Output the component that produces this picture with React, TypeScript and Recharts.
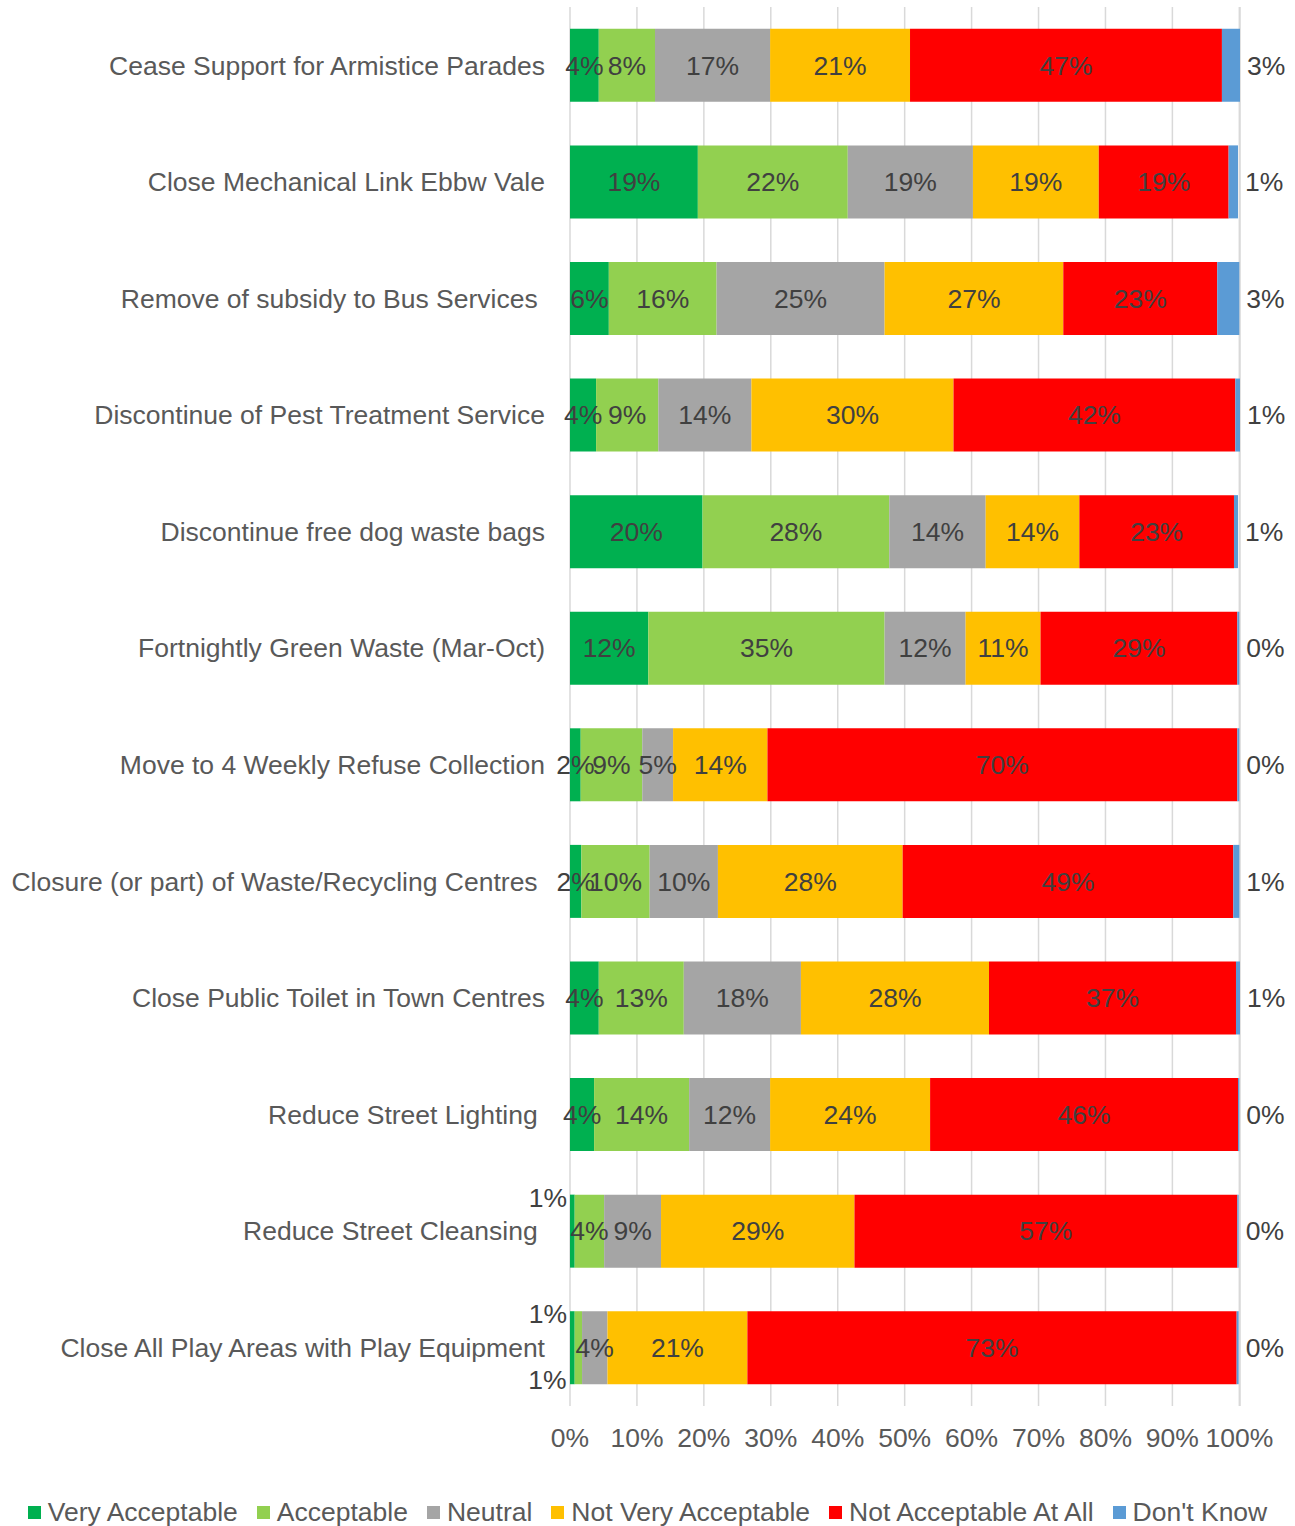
import { BarChart, Bar, XAxis, YAxis, CartesianGrid, Legend, LabelList } from "recharts";

const categories = [
  "Cease Support for Armistice Parades",
  "Close Mechanical Link Ebbw Vale",
  "Remove of subsidy to Bus Services\u00a0",
  "Discontinue of Pest Treatment Service",
  "Discontinue free dog waste bags",
  "Fortnightly Green Waste (Mar-Oct)",
  "Move to 4 Weekly Refuse Collection",
  "Closure (or part) of Waste/Recycling Centres\u00a0",
  "Close Public Toilet in Town Centres",
  "Reduce Street Lighting\u00a0",
  "Reduce Street Cleansing\u00a0",
  "Close All Play Areas with Play Equipment",
];

const veryAcceptable = [4.3, 19.1, 5.8, 3.9, 19.8, 11.7, 1.6, 1.7, 4.3, 3.6, 0.7, 0.7];
const acceptable = [8.4, 22.4, 16.1, 9.3, 27.9, 35.3, 9.2, 10.2, 12.7, 14.2, 4.4, 1.1];
const neutral = [17.2, 18.7, 25.1, 13.9, 14.4, 12.1, 4.6, 10.2, 17.5, 12.1, 8.5, 3.8];
const notVeryAcceptable = [20.9, 18.8, 26.7, 30.2, 14.0, 11.2, 14.1, 27.6, 28.1, 23.9, 28.9, 20.9];
const notAcceptableAtAll = [46.6, 19.4, 23.0, 42.1, 23.1, 29.4, 70.2, 49.4, 36.9, 46.0, 57.2, 73.1];
const dontKnow = [2.7, 1.4, 3.3, 0.7, 0.6, 0.3, 0.3, 0.9, 0.6, 0.2, 0.2, 0.3];

const xTicks = [0, 10, 20, 30, 40, 50, 60, 70, 80, 90, 100];

// rows whose small labels were moved off the bar
const greenLabelAbove = ["Reduce Street Cleansing\u00a0", "Close All Play Areas with Play Equipment"];
const lightGreenLabelBelow = ["Close All Play Areas with Play Equipment"];

const data = categories.map((name, i) => ({
  name,
  veryAcceptable: veryAcceptable[i],
  acceptable: acceptable[i],
  neutral: neutral[i],
  notVeryAcceptable: notVeryAcceptable[i],
  notAcceptableAtAll: notAcceptableAtAll[i],
  dontKnow: dontKnow[i],
}));

const series = [
  { key: "veryAcceptable", label: "Very Acceptable", color: "#00B050" },
  { key: "acceptable", label: "Acceptable", color: "#92D050" },
  { key: "neutral", label: "Neutral", color: "#A5A5A5" },
  { key: "notVeryAcceptable", label: "Not Very Acceptable", color: "#FFC000" },
  { key: "notAcceptableAtAll", label: "Not Acceptable At All", color: "#FF0000" },
  { key: "dontKnow", label: "Don't Know", color: "#5B9BD5" },
];

const FONT = "'Liberation Sans', Arial, sans-serif";
const FS = 26.5;
const pct = (v: number) => `${Math.round(v)}%`;

function CategoryTick(props: any) {
  const { x, y, payload } = props;
  return (
    <text x={x} y={y} dy="0.35em" textAnchor="end" fontSize={FS} fill="#595959" fontFamily={FONT} style={{ whiteSpace: "pre" }}>
      {payload.value}
    </text>
  );
}

function makeLabel(seriesKey: string) {
  return (props: any) => {
    const { x, y, width, height, value, index } = props;
    const name = categories[index];
    const common = { fontSize: FS, fill: "#404040", fontFamily: FONT };
    if (seriesKey === "veryAcceptable" && greenLabelAbove.includes(name)) {
      return (
        <text x={x - 3} y={y + 3} dy="0.35em" textAnchor="end" {...common}>
          {pct(value)}
        </text>
      );
    }
    if (seriesKey === "acceptable" && lightGreenLabelBelow.includes(name)) {
      return (
        <text x={x - 8} y={y + height - 4} dy="0.35em" textAnchor="end" {...common}>
          {pct(value)}
        </text>
      );
    }
    if (seriesKey === "dontKnow") {
      return (
        <text x={x + width + 7} y={y + height / 2} dy="0.35em" textAnchor="start" {...common}>
          {pct(value)}
        </text>
      );
    }
    return (
      <text x={x + width / 2} y={y + height / 2} dy="0.35em" textAnchor="middle" {...common}>
        {pct(value)}
      </text>
    );
  };
}

function LegendContent() {
  return (
    <div
      style={{
        display: "flex",
        justifyContent: "center",
        alignItems: "center",
        height: 28,
        fontFamily: FONT,
        fontSize: FS,
        color: "#595959",
        whiteSpace: "nowrap",
      }}
    >
      {series.map((s, i) => (
        <div key={s.key} style={{ display: "flex", alignItems: "center", marginRight: i < series.length - 1 ? 19 : 0 }}>
          <span style={{ width: 13, height: 13, background: s.color, marginRight: 7, display: "inline-block" }} />
          <span>{s.label}</span>
        </div>
      ))}
    </div>
  );
}

export default function App() {
  return (
    <div style={{ position: "absolute", left: 0, top: 0, width: 1295, height: 1526, background: "#fff" }}>
      <BarChart
        width={1295}
        height={1526}
        data={data}
        layout="vertical"
        margin={{ top: 7, right: 55, left: 0, bottom: 0 }}
        barCategoryGap="18.7%"
      >
        <CartesianGrid horizontal={false} stroke="#D9D9D9" strokeWidth={1.5} />
        <XAxis
          type="number"
          domain={[0, 100]}
          ticks={xTicks}
          tickFormatter={(v) => `${v}%`}
          tick={{ fontSize: FS, fill: "#595959", fontFamily: FONT }}
          tickLine={false}
          axisLine={false}
          tickSize={0}
          tickMargin={22}
          height={92}
          interval={0}
        />
        <YAxis
          type="category"
          dataKey="name"
          width={570}
          tick={<CategoryTick />}
          tickLine={false}
          axisLine={false}
          tickSize={0}
          tickMargin={25}
          interval={0}
        />
        <Legend
          verticalAlign="bottom"
          height={28}
          content={<LegendContent />}
          wrapperStyle={{ left: 0, width: 1295, bottom: 0 }}
        />
        {series.map((s) => (
          <Bar key={s.key} dataKey={s.key} name={s.label} stackId="a" fill={s.color} isAnimationActive={false}>
            <LabelList dataKey={s.key} content={makeLabel(s.key)} />
          </Bar>
        ))}
      </BarChart>
    </div>
  );
}
